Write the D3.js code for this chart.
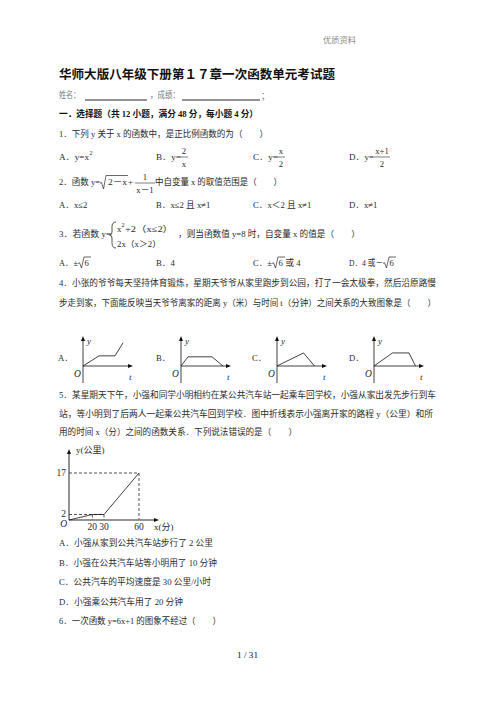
<!DOCTYPE html>
<html><head><meta charset="utf-8">
<script src="https://cdn.jsdelivr.net/npm/d3@7"></script>
<style>body{margin:0;background:#fff}svg{display:block}</style>
</head><body><svg id="c" width="496" height="702"></svg>
<script>
// ---- text content ----
const headerText = "优质资料";
const titleText = "华师大版八年级下册第１７章一次函数单元考试题";
const sectionText = "一．选择题（共 12 小题，满分 48 分，每小题 4 分）";
const q1Text = "1．下列 y 关于 x 的函数中，是正比例函数的为（　　）";
const q2Tail = "中自变量 x 的取值范围是（　　）";
const q2Options = ["A．x≤2", "B．x≤2 且 x≠1", "C．x＜2 且 x≠1", "D．x≠1"];
const q3Tail = "，则当函数值 y=8 时，自变量 x 的值是（　　）";
const q4Lines = ["4．小张的爷爷每天坚持体育锻炼，星期天爷爷从家里跑步到公园，打了一会太极拳，然后沿原路慢",
                 "步走到家，下面能反映当天爷爷离家的距离 y（米）与时间 t（分钟）之间关系的大致图象是（　　）"];
const q4Labels = ["A．", "B．", "C．", "D．"];
// sketch curves for Q4 (abstract units: t 0..10, y 0..6)
const q4CurveA = [[0,0],[3.2,2.1],[6.4,2.1],[8,4.8]];
const q4CurveB = [[0,0],[1.4,1.9],[6.2,1.9],[8.4,0]];
const q4CurveC = [[0,0],[5.3,2.7],[7.5,0]];
const q4CurveD = [[0,0],[3.7,2.7],[7,2.7],[8.3,0]];
const q4Curves = [q4CurveA, q4CurveB, q4CurveC, q4CurveD];
const q5Lines = ["5．某星期天下午，小强和同学小明相约在某公共汽车站一起乘车回学校，小强从家出发先步行到车",
                 "站，等小明到了后两人一起乘公共汽车回到学校．图中折线表示小强离开家的路程 y（公里）和所",
                 "用的时间 x（分）之间的函数关系．下列说法错误的是（　　）"];
// Q5 graph data
const q5X = [0, 20, 30, 60];
const q5Y = [0, 2, 2, 17];
const q5XTicks = [20, 30, 60];
const q5YTicks = [2, 17];
const q5Options = ["A．小强从家到公共汽车站步行了 2 公里",
                   "B．小强在公共汽车站等小明用了 10 分钟",
                   "C．公共汽车的平均速度是 30 公里/小时",
                   "D．小强乘公共汽车用了 20 分钟"];
const q6Text = "6．一次函数 y=6x+1 的图象不经过（　　）";
const footerText = "1 / 31";

const svg = d3.select("#c");
const FONT = "'Liberation Serif','DejaVu Serif','Noto Sans CJK SC',serif";
const INK = "#2a2a2a";
const FS = 8.7;

function txt(x, y, s, o = {}) {
  const t = svg.append("text").attr("x", x).attr("y", y)
    .attr("dominant-baseline", "central")
    .attr("font-family", o.family || FONT)
    .attr("font-size", o.size || FS)
    .attr("fill", o.fill || INK)
    .attr("font-weight", o.weight || "normal")
    .attr("font-style", o.style || "normal")
    .attr("text-anchor", o.anchor || "start")
    .text(s);
  if (o.len) t.attr("textLength", o.len).attr("lengthAdjust", "spacingAndGlyphs");
  return t;
}
function hline(x1, x2, y, w = 0.7, c = INK) {
  svg.append("line").attr("x1", x1).attr("x2", x2).attr("y1", y).attr("y2", y)
    .attr("stroke", c).attr("stroke-width", w);
}
function radical(x, top, bottom, barEnd) {
  const mid = (top + bottom) / 2 + 1;
  svg.append("path")
    .attr("d", `M${x},${mid} L${x + 1.5},${mid - 0.8} L${x + 3.5},${bottom} L${x + 6},${top} L${barEnd},${top}`)
    .attr("fill", "none").attr("stroke", INK).attr("stroke-width", 0.7);
}
function frac(cx, y, num, den, barW) {
  txt(cx, y - 6.5, num, { anchor: "middle" });
  hline(cx - barW / 2, cx + barW / 2, y, 0.6);
  txt(cx, y + 6.5, den, { anchor: "middle" });
}

// header, title
txt(323, 40, headerText, { size: 7.5, fill: "#8a8a8a", len: 33 });
txt(59, 73, titleText, { size: 12.5, weight: "bold", fill: "#111", len: 276, family: "'Noto Sans CJK SC',sans-serif" });

// name line
txt(59, 95, "姓名：", { fill: "#777", len: 21 });
hline(85, 147, 100, 0.9, "#111");
txt(150, 95, "，成绩：", { fill: "#777", len: 30 });
hline(182, 260, 100, 0.9, "#111");
txt(261, 96, "；", { fill: "#777" });

// section
txt(59, 113.5, sectionText, { weight: "bold", size: 8.8, fill: "#111", len: 199 });

// Q1
txt(59, 134, q1Text, { len: 209 });
const optX = [59, 156, 253, 349];
txt(optX[0], 157, "A．y=x", { len: 30 });
txt(89.5, 153, "2", { size: 6 });
txt(optX[1], 157, "B．y=", { len: 25 });
frac(184, 157, "2", "x", 8);
txt(optX[2], 157, "C．y=", { len: 25 });
frac(281, 157, "x", "2", 8);
txt(optX[3], 157, "D．y=", { len: 25 });
frac(382, 157, "x+1", "2", 16);

// Q2
txt(59, 182, "2．函数 y=", { len: 41 });
radical(100, 175.5, 189, 128);
txt(108, 182, "2－x", { len: 19 });
txt(128, 182, "+", {});
frac(145, 183, "1", "x－1", 20);
txt(155, 182, q2Tail, { len: 127 });
q2Options.forEach((s, i) => txt(optX[i], 205, s));

// Q3
txt(59, 234, "3．若函数 y=", { len: 52 });
svg.append("path")
  .attr("d", "M116,222 Q112,222 112,227 L112,232 Q112,235 109.5,235 Q112,235 112,238 L112,243 Q112,248 116,248")
  .attr("fill", "none").attr("stroke", INK).attr("stroke-width", 0.8);
txt(117, 229, "x", {});
txt(121.5, 225, "2", { size: 6 });
txt(125, 229, "+2（x≤2）", { len: 48 });
txt(117, 244, "2x（x＞2）", { len: 44 });
txt(178, 234, q3Tail, { len: 182 });

// Q3 options
const yo3 = 263;
txt(optX[0], yo3, "A．±", { len: 19 });
radical(78, 257, 268, 91); txt(84.5, yo3, "6");
txt(optX[1], yo3, "B．4");
txt(optX[2], yo3, "C．±", { len: 19 });
radical(272, 257, 268, 285); txt(278.5, yo3, "6");
txt(285.5, yo3, "或 4", { len: 15 });
txt(optX[3], yo3, "D．4 或－", { len: 34 });
radical(383, 257, 268, 396); txt(389.5, yo3, "6");

// Q4 text
txt(59, 283, q4Lines[0], { len: 377 });
txt(59, 303, q4Lines[1], { len: 377 });

// Q4 sketch graphs
const q4Origins = [83, 181, 277, 374];
const axisY = 366;
const gx = d3.scaleLinear().domain([0, 10]).range([0, 50]);
const gy = d3.scaleLinear().domain([0, 6]).range([0, -29]);
function arrowHead(x, y, dir) {
  const p = dir === "right" ? `M${x},${y} L${x - 5},${y - 2} L${x - 5},${y + 2} Z`
                            : `M${x},${y} L${x - 2},${y + 5} L${x + 2},${y + 5} Z`;
  svg.append("path").attr("d", p).attr("fill", "#111");
}
q4Curves.forEach((curve, i) => {
  const ox = q4Origins[i];
  const g = svg.append("g");
  g.append("line").attr("x1", ox).attr("x2", ox).attr("y1", 383).attr("y2", 338)
    .attr("stroke", "#111").attr("stroke-width", 0.8);
  g.append("line").attr("x1", ox).attr("x2", ox + 48).attr("y1", axisY).attr("y2", axisY)
    .attr("stroke", "#111").attr("stroke-width", 0.8);
  arrowHead(ox, 336, "up");
  arrowHead(ox + 50, axisY, "right");
  const line = d3.line().x(d => ox + gx(d[0])).y(d => axisY + gy(d[1]));
  g.append("path").attr("d", line(curve)).attr("fill", "none")
    .attr("stroke", "#111").attr("stroke-width", 0.8);
  txt(ox - 25, 358, q4Labels[i], {});
  txt(ox + 4, 341, "y", { style: "italic", size: 9 });
  txt(ox - 9, 374, "O", { style: "italic", size: 9.5 });
  txt(ox + 46, 377, "t", { style: "italic", size: 9 });
});

// Q5 text
txt(59, 395, q5Lines[0], { len: 377 });
txt(59, 413.5, q5Lines[1], { len: 374 });
txt(59, 432, q5Lines[2], { len: 238 });

// Q5 graph
const x5 = d3.scaleLinear().domain([0, 60]).range([69, 139]);
const y5 = d3.scaleLinear().domain([0, 17]).range([520, 473]);
const g5 = svg.append("g");
g5.append("line").attr("x1", x5(0)).attr("x2", x5(0)).attr("y1", y5(0)).attr("y2", 452)
  .attr("stroke", "#111").attr("stroke-width", 0.9);
g5.append("line").attr("x1", x5(0)).attr("x2", 156).attr("y1", y5(0)).attr("y2", y5(0))
  .attr("stroke", "#111").attr("stroke-width", 0.9);
arrowHead(x5(0), 449, "up");
arrowHead(159, y5(0), "right");
const dash = (x1, y1, x2, y2, w = 0.8, c = "#222") =>
  g5.append("line").attr("x1", x1).attr("y1", y1).attr("x2", x2).attr("y2", y2)
    .attr("stroke", c).attr("stroke-width", w).attr("stroke-dasharray", "3,2");
const iMax = q5Y.indexOf(d3.max(q5Y));
dash(x5(0), y5(q5Y[iMax]), x5(q5X[iMax]), y5(q5Y[iMax]));
dash(x5(q5X[iMax]), y5(q5Y[iMax]), x5(q5X[iMax]), y5(0), 1.3, "#777");
dash(x5(0), y5(q5Y[1]), x5(q5X[2]), y5(q5Y[2]));
dash(x5(q5X[1]), y5(q5Y[1]), x5(q5X[1]), y5(0));
dash(x5(q5X[2]), y5(q5Y[2]), x5(q5X[2]), y5(0));
const line5 = d3.line().x((d, i) => x5(d)).y((d, i) => y5(q5Y[i]));
g5.append("path").attr("d", line5(q5X)).attr("fill", "none")
  .attr("stroke", "#111").attr("stroke-width", 0.8);
q5XTicks.forEach(v => txt(x5(v), 526.5, String(v), { anchor: "middle", size: 9.5, family: "'Liberation Serif',serif" }));
q5YTicks.forEach(v => txt(x5(0) - 3, y5(v), String(v), { anchor: "end", size: 9.5, family: "'Liberation Serif',serif" }));
txt(x5(0) - 2, 524, "O", { anchor: "end", style: "italic", size: 9.5 });
txt(154, 527, "x(分)", { size: 9 });
txt(76, 450, "y(公里)", { size: 9 });

// Q5 options and Q6
const yo5 = [543, 562.5, 582, 602];
const lens5 = [154, 158, 152, 124];
q5Options.forEach((s, i) => txt(59, yo5[i], s, { len: lens5[i] }));
txt(59, 621, q6Text, { len: 162 });

// footer
txt(237, 655, footerText, { size: 8, fill: "#111", len: 21 });
</script></body></html>
